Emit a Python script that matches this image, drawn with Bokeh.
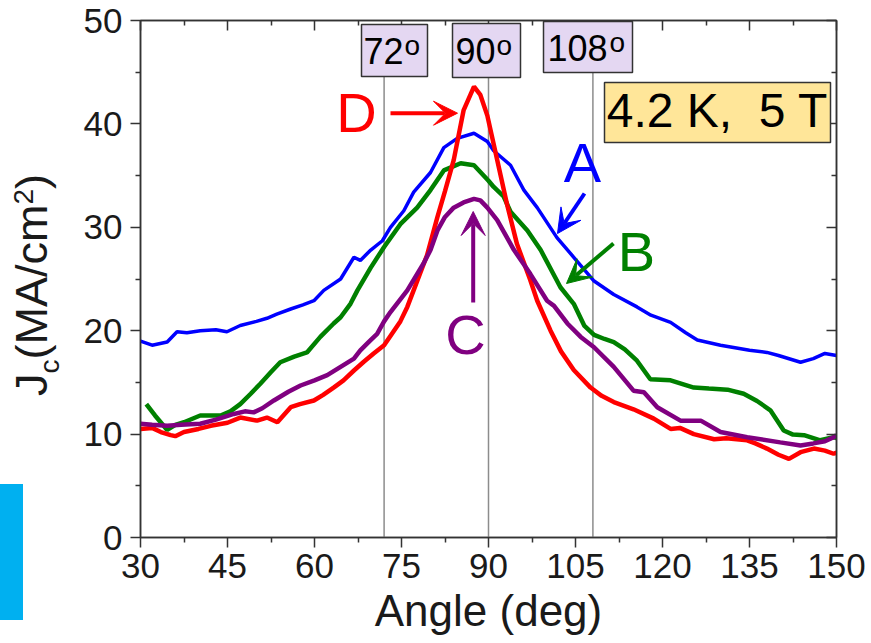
from bokeh.plotting import figure
from bokeh.layouts import row
from bokeh.models import (Range1d, LinearAxis, Label, BoxAnnotation, Arrow,
                          VeeHead, FixedTicker, Div)
from bokeh.embed import file_html
from bokeh.resources import INLINE

# ---------------- data ----------------
angle_a = [30, 32, 34.6, 36.3, 38, 40.3, 43, 44.9, 47.2, 50, 51.8, 53.5, 55.9, 58,
           59.9, 61.6, 64.5, 66.8, 67.9, 69.7, 71.7, 73.1, 75.4, 77.1, 80, 82.3,
           84.6, 87.5, 89.8, 90.9, 93.8, 96.1, 98.4, 101.8, 104.7, 108.2, 111.6,
           115.6, 118, 121.4, 124, 126, 130, 135, 138, 140, 143.8, 146, 148, 150]
jc_a = [19.0, 18.6, 18.9, 19.9, 19.8, 20.0, 20.1, 19.9, 20.5, 20.9, 21.2, 21.6, 22.1,
        22.5, 22.9, 23.9, 25.0, 27.1, 26.8, 27.8, 28.7, 30.0, 31.6, 33.4, 35.3, 37.7,
        38.6, 39.1, 38.3, 37.4, 36.0, 33.6, 31.9, 29.0, 27.1, 24.8, 23.5, 22.3, 21.5,
        20.8, 19.8, 19.1, 18.6, 18.1, 17.9, 17.6, 16.95, 17.3, 17.8, 17.6]

angle_b = [31.0, 32.5, 34.6, 36, 37.5, 40.3, 43.8, 45.5, 47.2, 49, 50.7, 52.5, 54.1,
           56.5, 58.7, 61, 63.3, 64.5, 66.2, 67.4, 69.7, 72, 74.8, 77.7, 80, 82.3,
           85.2, 87.5, 90, 90.9, 92.6, 93.8, 96.7, 99, 102.4, 104.7, 106.5, 108.2,
           110, 111.6, 113.5, 115.6, 117.9, 121.4, 125.4, 128, 131.2, 134, 136.3,
           138.6, 140.9, 142.5, 144.4, 147.2, 149.5, 150]
jc_b = [12.9, 11.8, 10.4, 10.9, 11.15, 11.8, 11.8, 12.2, 12.9, 13.9, 14.9, 16.0,
        16.95, 17.5, 17.9, 19.4, 20.7, 21.3, 22.6, 23.9, 26.1, 28.1, 30.3, 31.9, 33.6,
        35.5, 36.2, 36.0, 34.5, 33.9, 33.0, 31.5, 29.7, 27.8, 24.2, 22.6, 20.5, 19.6,
        19.2, 18.9, 18.2, 17.1, 15.3, 15.2, 14.5, 14.4, 14.3, 13.9, 13.2, 12.3, 10.35,
        9.95, 9.9, 9.4, 9.7, 9.6]

angle_d = [30, 32, 33.5, 35.2, 36, 37.5, 40, 42.1, 45, 47.2, 50.1, 51.8, 53.6, 55.9,
           57.5, 59.9, 61.5, 63.3, 65, 66.8, 68.5, 70.2, 72, 74.8, 76, 77.5, 79.4,
           81.2, 82.5, 84, 85.7, 87.5, 88.6, 89.8, 91.5, 93.2, 94.9, 97.2, 98.4,
           100.7, 102.5, 104.7, 107.6, 109.5, 111.6, 115, 118.5, 121.4, 123, 125.4,
           128.9, 131, 134.6, 136, 138, 140, 141.8, 143.8, 146.1, 148, 149.5, 150]
jc_d = [10.5, 10.6, 10.2, 9.9, 9.8, 10.2, 10.5, 10.8, 11.1, 11.6, 11.3, 11.6, 11.15,
        12.6, 12.9, 13.25, 13.8, 14.5, 15.2, 16.15, 17.0, 17.8, 18.6, 20.9, 22.3, 24.5,
        27.3, 31.0, 33.5, 36.5, 41.3, 43.6, 42.8, 40.8, 36.5, 32.2, 28.4, 24.9, 22.9,
        20.0, 18.0, 16.2, 14.5, 13.7, 13.1, 12.4, 11.5, 10.5, 10.6, 10.0, 9.5, 9.6,
        9.4, 9.1, 8.6, 8.0, 7.6, 8.25, 8.6, 8.4, 8.1, 8.2]

angle_c = [30, 32, 34.6, 37, 40.3, 43, 46.1, 48, 49.5, 51, 53, 55.5, 57.6, 60, 62.2,
           64.5, 66.8, 67.9, 69.5, 70.8, 72, 73.1, 76, 78.8, 80, 81.2, 82.5, 84, 85.7,
           87.5, 88.6, 89.8, 91.5, 94.4, 97.2, 100.1, 101.3, 103.6, 105.9, 108.2,
           111.6, 115, 116.8, 119.1, 123.1, 126.6, 130, 134.6, 140.3, 143.8, 146, 148,
           149.5, 150]
jc_c = [11.0, 10.9, 10.8, 10.9, 11.0, 11.4, 11.95, 12.2, 12.1, 12.5, 13.25, 14.1, 14.7,
        15.2, 15.7, 16.5, 17.3, 18.1, 19.0, 19.7, 20.9, 21.8, 23.9, 26.5, 27.8, 29.7,
        31.0, 31.9, 32.4, 32.75, 32.6, 31.9, 30.7, 27.8, 25.5, 22.9, 22.4, 20.7, 19.4,
        18.4, 16.5, 14.2, 14.05, 12.6, 11.3, 11.3, 10.2, 9.7, 9.2, 8.9, 9.1, 9.3, 9.7,
        9.9]

x_ticks = [30, 45, 60, 75, 90, 105, 120, 135, 150]
x_minor = [37.5, 52.5, 67.5, 82.5, 97.5, 112.5, 127.5, 142.5]
y_ticks = [0, 10, 20, 30, 40, 50]
y_minor = [5, 15, 25, 35, 45]

marked_angles = [72, 90, 108]
marked_texts = ["72", "90", "108"]

FONT = "Liberation Sans"
TXT = "#1a1a1a"
LEFT_W = 60
K = 0.37  # baseline offset of a label anchor, in em

p = figure(width=871 - LEFT_W, height=643, x_range=Range1d(30, 150),
           y_range=Range1d(0, 50), output_backend="svg", toolbar_location=None,
           min_border_left=140 - LEFT_W, min_border_right=35, min_border_top=20,
           min_border_bottom=106)
p.xgrid.visible = False
p.ygrid.visible = False
p.outline_line_color = "#333333"
p.outline_line_width = 1.5

def style_axis(ax, inside):
    ax.axis_line_color = "#333333"
    ax.axis_line_width = 1.5
    ax.major_tick_line_color = "#333333"
    ax.minor_tick_line_color = "#333333"
    ax.major_tick_line_width = 1.5
    ax.minor_tick_line_width = 1.5
    if inside:
        ax.major_tick_in, ax.major_tick_out = 10, 0
        ax.minor_tick_in, ax.minor_tick_out = 5, 0
        ax.major_label_text_font_size = "0px"
        ax.major_label_text_color = None
        ax.major_label_standoff = 0
    else:
        ax.major_tick_in, ax.major_tick_out = 0, 10
        ax.minor_tick_in, ax.minor_tick_out = 0, 5
        ax.major_label_text_font = FONT
        ax.major_label_text_font_size = "35px"
        ax.major_label_text_color = TXT

xa = p.xaxis[0]
xa.ticker = FixedTicker(ticks=x_ticks, minor_ticks=x_minor)
style_axis(xa, False)
xa.major_label_standoff = 6
xa.axis_label = "Angle (deg)"
xa.axis_label_text_font = FONT
xa.axis_label_text_font_size = "44px"
xa.axis_label_text_font_style = "normal"
xa.axis_label_text_color = TXT
xa.axis_label_standoff = 5

ya = p.yaxis[0]
ya.ticker = FixedTicker(ticks=y_ticks, minor_ticks=y_minor)
style_axis(ya, False)
ya.major_label_standoff = 8

top = LinearAxis(ticker=FixedTicker(ticks=x_ticks, minor_ticks=x_minor))
style_axis(top, True)
p.add_layout(top, "above")
right = LinearAxis(ticker=FixedTicker(ticks=y_ticks, minor_ticks=y_minor))
style_axis(right, True)
p.add_layout(right, "right")

# vertical guide lines at the marked angles
p.segment(x0=marked_angles, y0=[0] * 3, x1=marked_angles, y1=[46] * 3,
          line_color="#8c8c8c", line_width=1.5)

# curves
p.line(angle_a, jc_a, line_color="#0000FF", line_width=3.5)
p.line(angle_b, jc_b, line_color="#008000", line_width=4.5)
p.line(angle_d, jc_d, line_color="#FF0000", line_width=4.5)
p.line(angle_c, jc_c, line_color="#800080", line_width=4.5)

# page-pixel helpers (frame: x 140..836 px, y 20..537 px)
def dx(px):
    return 30 + (px - 140) / 5.8

def dy(py):
    return (537 - py) / 10.34

def label(x_px, base_px, text, fs, color, align="left"):
    return Label(x=dx(x_px), y=dy(base_px - K * fs), text=text, text_font=FONT,
                 text_font_size=f"{fs}px", text_color=color, text_align=align,
                 text_baseline="alphabetic")

# boxes for angle tags
tag_boxes = [(361, 427, 24, 76), (452, 520, 23, 77), (543, 632, 21, 72)]
tag_digit_x = [363, 455, 547]
tag_o_x = [404, 496, 609]
tag_base = [63.5, 63.5, 61]
for (l, r, t, b), txt, tx, ox, base in zip(tag_boxes, marked_texts, tag_digit_x,
                                          tag_o_x, tag_base):
    p.add_layout(BoxAnnotation(left=dx(l), right=dx(r), top=dy(t), bottom=dy(b),
                               fill_color="#E4D7F2", fill_alpha=1.0,
                               line_color="#333333", line_width=1.5, line_alpha=1.0))
    p.add_layout(label(tx, base, txt, 36, "black"))
    p.add_layout(label(ox, base - 8.5, "o", 28, "black"))

# condition box
p.add_layout(BoxAnnotation(left=dx(604), right=dx(830), top=dy(82), bottom=dy(142),
                           fill_color="#FFE699", fill_alpha=1.0,
                           line_color="#333333", line_width=1.5, line_alpha=1.0))
p.add_layout(label(717, 128, "4.2 K,\u00a0\u00a05 T", 48, "black", "center"))

# sample letters and arrows
letters = [("D", "#FF0000", 356, 133), ("A", "#0000FF", 582, 183),
           ("B", "#008000", 636, 272), ("C", "#800080", 465, 355)]
for t, c, px, py in letters:
    p.add_layout(label(px, py, t, 56, c, "center"))

arrows = [("#FF0000", 390, 112.7, 457, 112.7), ("#0000FF", 584, 193, 557, 233),
          ("#008000", 613, 243, 566, 283), ("#800080", 472.7, 302, 472.7, 211)]
for c, x0, y0, x1, y1 in arrows:
    p.add_layout(Arrow(end=VeeHead(size=24, fill_color=c, line_color=c),
                       x_start=dx(x0), y_start=dy(y0), x_end=dx(x1), y_end=dy(y1),
                       line_color=c, line_width=4))

# ---------- left strip: y-axis title J_c(MA/cm^2) and cyan slide marker ----------
ylabel_html = (
    '<div style="position:relative;width:60px;height:643px;overflow:visible;'
    'font-family:\'Liberation Sans\',Arial,sans-serif;color:#1a1a1a;">'
    '<div style="position:absolute;left:0px;top:484px;width:23px;height:136px;'
    'background:#00B0F0;"></div>'
    '<div style="position:absolute;left:9px;top:396px;transform-origin:0 0;'
    'transform:rotate(-90deg);white-space:nowrap;font-size:45px;line-height:1;">'
    'J<span style="font-size:28px;line-height:0;vertical-align:-12px;">c</span>'
    '(MA/cm<span style="font-size:28px;line-height:0;vertical-align:14px;">2</span>)'
    '</div></div>'
)
left_strip = Div(text=ylabel_html, width=LEFT_W, height=643, margin=0)

layout = row(left_strip, p, spacing=0)
open("out.html", "w").write(file_html(layout, INLINE))
